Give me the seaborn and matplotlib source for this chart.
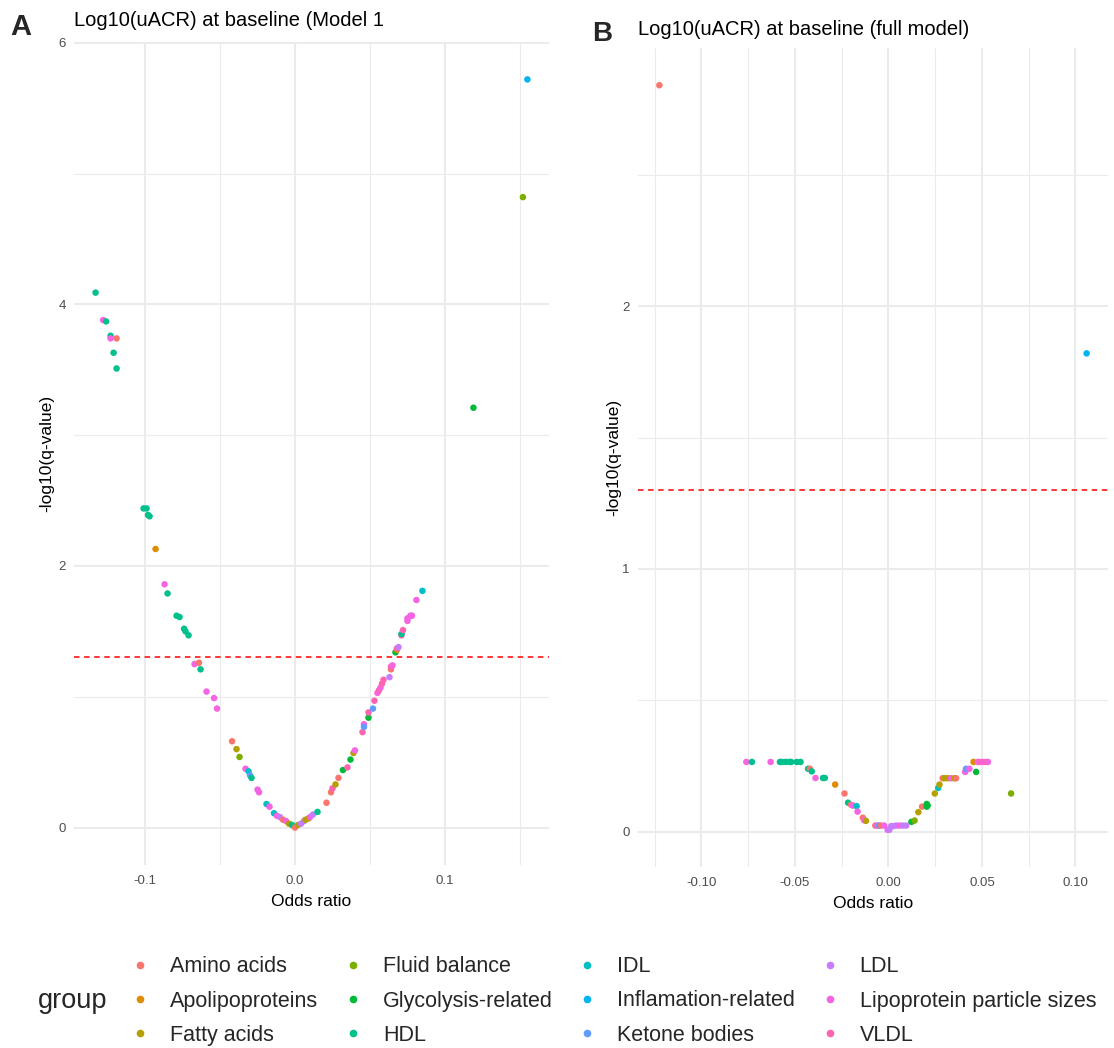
import math
import matplotlib
matplotlib.use("Agg")
import matplotlib.pyplot as plt
from matplotlib.ticker import MultipleLocator, FormatStrFormatter
from matplotlib.lines import Line2D
import pandas as pd
import seaborn as sns

# Metabolite groups and their hue colours
groups = ["Amino acids", "Apolipoproteins", "Fatty acids", "Fluid balance",
          "Glycolysis-related", "HDL", "IDL", "Inflamation-related",
          "Ketone bodies", "LDL", "Lipoprotein particle sizes", "VLDL"]
group_colors = ["#F8766D", "#DE8C00", "#B79F00", "#7CAE00", "#00BA38", "#00C08B",
                "#00BFC4", "#00B4F0", "#619CFF", "#C77CFF", "#F564E3", "#FF64B0"]
codes = dict(zip(["AA", "APO", "FA", "FB", "GLY", "HDL", "IDL", "INF",
                  "KET", "LDL", "LPS", "VLDL"], groups))

# Model 1: effect estimate, -log10(q), group code
m1_or = [0.155, 0.152, -0.133, -0.128, -0.126, -0.123, -0.123, -0.119, -0.121, -0.119,
         0.119, -0.101, -0.099, -0.098, -0.097, -0.093, -0.087, -0.085, -0.079, -0.077,
         -0.074, -0.073, -0.071, -0.067, -0.064, -0.063, -0.059, -0.054, -0.052, -0.042,
         -0.039, -0.037, -0.033, -0.031, -0.030, -0.029, -0.025, -0.024, -0.019, -0.017,
         -0.014, -0.012, -0.010, -0.008, -0.006, -0.004, -0.002, 0.000, 0.002, 0.004,
         0.006, 0.007, 0.009, 0.010, 0.012, 0.015,
         0.021, 0.024, 0.025, 0.027, 0.029, 0.032, 0.035, 0.037, 0.039, 0.040,
         0.045, 0.046, 0.046, 0.049, 0.049, 0.052, 0.053, 0.055, 0.056, 0.057,
         0.058, 0.059, 0.063, 0.064, 0.064, 0.065, 0.067, 0.068, 0.068, 0.069,
         0.071, 0.071, 0.072, 0.075, 0.075, 0.077, 0.078, 0.081, 0.085]
m1_q = [5.72, 4.82, 4.09, 3.88, 3.87, 3.76, 3.74, 3.74, 3.63, 3.51,
        3.21, 2.44, 2.44, 2.39, 2.38, 2.13, 1.86, 1.79, 1.62, 1.61,
        1.52, 1.50, 1.47, 1.25, 1.26, 1.21, 1.04, 0.99, 0.91, 0.66,
        0.60, 0.54, 0.45, 0.43, 0.40, 0.38, 0.29, 0.27, 0.18, 0.16,
        0.11, 0.09, 0.08, 0.06, 0.05, 0.03, 0.02, 0.00, 0.02, 0.03,
        0.05, 0.06, 0.07, 0.08, 0.10, 0.12,
        0.19, 0.27, 0.30, 0.33, 0.38, 0.44, 0.46, 0.52, 0.57, 0.59,
        0.73, 0.79, 0.77, 0.84, 0.88, 0.91, 0.97, 1.03, 1.05, 1.07,
        1.10, 1.13, 1.15, 1.21, 1.23, 1.24, 1.34, 1.36, 1.37, 1.38,
        1.47, 1.48, 1.51, 1.58, 1.60, 1.62, 1.62, 1.74, 1.81]
m1_grp = ["INF", "FB", "HDL", "LPS", "HDL", "HDL", "LPS", "AA", "HDL", "HDL",
          "GLY", "HDL", "HDL", "HDL", "HDL", "APO", "LPS", "HDL", "HDL", "HDL",
          "HDL", "HDL", "HDL", "LPS", "AA", "HDL", "LPS", "LPS", "LPS", "AA",
          "FA", "FB", "LPS", "IDL", "KET", "HDL", "LPS", "LPS", "IDL", "LPS",
          "IDL", "LPS", "LDL", "AA", "LPS", "FA", "HDL", "AA", "FA", "LDL",
          "LDL", "FA", "FA", "LPS", "LDL", "HDL",
          "AA", "AA", "VLDL", "FA", "AA", "GLY", "VLDL", "GLY", "FA", "LPS",
          "VLDL", "LPS", "KET", "GLY", "VLDL", "KET", "VLDL", "LPS", "VLDL", "LPS",
          "VLDL", "VLDL", "LDL", "AA", "VLDL", "LPS", "GLY", "APO", "VLDL", "LDL",
          "VLDL", "HDL", "VLDL", "LPS", "LPS", "LPS", "LPS", "LPS", "IDL"]

# Full model
full_or = [-0.1225, 0.106, -0.076, -0.073, -0.063, -0.058, -0.057, -0.055, -0.053, -0.052,
           -0.049, -0.047, -0.043, -0.042, -0.041, -0.039, -0.035, -0.034, -0.0285, -0.0235,
           -0.0216, -0.020, -0.019, -0.017, -0.0165, -0.0137, -0.013, -0.012, -0.007, -0.006,
           -0.005, -0.004, -0.0023, -0.0004, 0.0005, 0.0015, 0.0026, 0.0041, 0.0059, 0.0077,
           0.0095, 0.0123, 0.014, 0.016, 0.018, 0.0205, 0.0205, 0.021, 0.0248, 0.0266,
           0.0273, 0.029, 0.030, 0.0317, 0.0335, 0.0353, 0.0362, 0.041, 0.0415, 0.0433,
           0.0469, 0.0455, 0.0478, 0.049, 0.0505, 0.052, 0.0532, 0.0656]
full_q = [2.84, 1.82, 0.266, 0.266, 0.266, 0.266, 0.266, 0.266, 0.266, 0.266,
          0.266, 0.266, 0.24, 0.24, 0.23, 0.205, 0.205, 0.205, 0.18, 0.146,
          0.111, 0.103, 0.100, 0.098, 0.077, 0.054, 0.044, 0.042, 0.024, 0.024,
          0.024, 0.024, 0.024, 0.008, 0.008, 0.022, 0.022, 0.024, 0.024, 0.024,
          0.024, 0.038, 0.043, 0.075, 0.096, 0.106, 0.096, 0.100, 0.146, 0.167,
          0.18, 0.204, 0.204, 0.204, 0.204, 0.204, 0.204, 0.228, 0.24, 0.24,
          0.228, 0.266, 0.266, 0.266, 0.266, 0.266, 0.266, 0.146]
full_grp = ["AA", "INF", "LPS", "HDL", "LPS", "HDL", "HDL", "HDL", "HDL", "HDL",
            "HDL", "HDL", "HDL", "AA", "HDL", "LPS", "HDL", "HDL", "APO", "AA",
            "HDL", "AA", "LPS", "IDL", "LPS", "AA", "LPS", "FA", "AA", "LPS",
            "KET", "AA", "LPS", "LPS", "LDL", "LDL", "LDL", "LDL", "LPS", "LDL",
            "LDL", "GLY", "FB", "FA", "AA", "GLY", "GLY", "GLY", "FA", "IDL",
            "FA", "AA", "FA", "FA", "LPS", "FA", "AA", "LPS", "KET", "LPS",
            "GLY", "APO", "LPS", "VLDL", "LPS", "VLDL", "LPS", "FB"]

q_threshold = 0.05

sns.set_theme(style="whitegrid")
plt.rcParams["font.family"] = ["Liberation Sans", "DejaVu Sans"]
plt.rcParams["axes.unicode_minus"] = False

W, H = 1114, 1048
fig = plt.figure(figsize=(W / 100, H / 100), dpi=100)
fig.patch.set_facecolor("white")


def px_axes(left, top, right, bottom):
    return fig.add_axes([left / W, 1 - bottom / H, (right - left) / W, (bottom - top) / H])


def padded(vals, frac=0.05):
    lo, hi = min(vals), max(vals)
    d = (hi - lo) * frac
    return lo - d, hi + d


def panel(ax, xs, ys, gs, title, xmaj, xmin, ymaj, ymin, xfmt, title_pad, ylab_pad):
    df = pd.DataFrame({"or": xs, "q": ys, "group": [codes[g] for g in gs]})
    sns.scatterplot(data=df, x="or", y="q", hue="group", hue_order=groups,
                    palette=group_colors, s=22, linewidth=0, legend=False, ax=ax, zorder=3)
    ax.axhline(-math.log10(q_threshold), color="red", lw=1.1,
               dashes=(3.6, 3.0), zorder=2)
    ax.set_xlim(*padded(xs))
    ax.set_ylim(*padded(ys))
    ax.xaxis.set_major_locator(MultipleLocator(xmaj))
    ax.xaxis.set_minor_locator(MultipleLocator(xmin))
    ax.yaxis.set_major_locator(MultipleLocator(ymaj))
    ax.yaxis.set_minor_locator(MultipleLocator(ymin))
    ax.xaxis.set_major_formatter(FormatStrFormatter(xfmt))
    ax.yaxis.set_major_formatter(FormatStrFormatter("%d"))
    ax.grid(which="major", color="#EBEBEB", lw=1.5)
    ax.grid(which="minor", color="#EBEBEB", lw=0.8)
    ax.set_axisbelow(True)
    for sp in ax.spines.values():
        sp.set_visible(False)
    ax.set_facecolor("white")
    ax.tick_params(which="both", length=0, labelsize=9.5, labelcolor="#4D4D4D")
    ax.tick_params(axis="x", pad=7)
    ax.tick_params(axis="y", pad=6)
    ax.set_xlabel("Odds ratio", fontsize=12.5, color="black", labelpad=5)
    ax.set_ylabel("-log10(q-value)", fontsize=12.5, color="black", labelpad=ylab_pad)
    ax.set_title(title, fontsize=14.5, loc="left", pad=title_pad, color="black")


ax_a = px_axes(74, 42, 549, 865)
panel(ax_a, m1_or, m1_q, m1_grp, "Log10(uACR) at baseline (Model 1",
      0.1, 0.05, 2, 1, "%.1f", 11.5, 3)

ax_b = px_axes(638, 48, 1108, 867)
panel(ax_b, full_or, full_q, full_grp, "Log10(uACR) at baseline (full model)",
      0.05, 0.025, 1, 0.5, "%.2f", 9.5, 0.5)

fig.text(10 / W, 1 - 35 / H, "A", fontsize=21, fontweight="bold", ha="left", va="baseline")
fig.text(592 / W, 1 - 41 / H, "B", fontsize=20, fontweight="bold", ha="left", va="baseline")

handles = [Line2D([], [], marker="o", linestyle="", markersize=5.5,
                  markerfacecolor=c, markeredgewidth=0) for c in group_colors]
fig.legend(handles, groups, ncol=4, loc="center left",
           bbox_to_anchor=(127 / W, 1 - 1001 / H), frameon=False, fontsize=15.5,
           handletextpad=0.8, columnspacing=1.0, labelspacing=0.62, handlelength=1.2,
           borderaxespad=0, borderpad=0)
fig.text(38 / W, 1 - 1001 / H, "group", fontsize=19.5, ha="left", va="center")

fig.savefig("out.png", dpi=100, facecolor="white")
